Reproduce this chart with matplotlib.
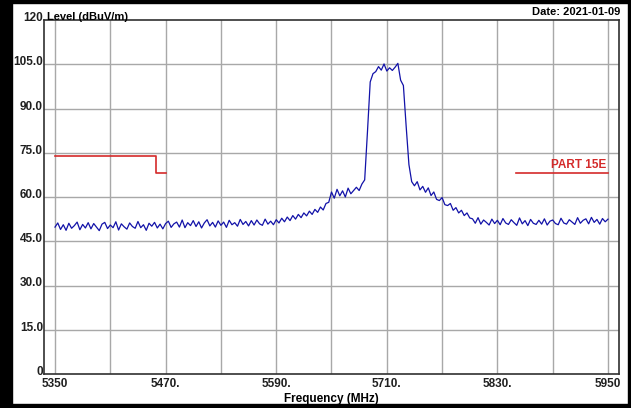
import numpy as np
import matplotlib
matplotlib.use("Agg")
from matplotlib import pyplot as plt
from matplotlib.patches import Rectangle
from matplotlib.transforms import ScaledTranslation

plt.rcParams['font.family'] = ['Liberation Sans', 'DejaVu Sans']

# sweep 5350..5950 MHz, 3 MHz step
freq = np.arange(5350, 5951, 3)

level = [
    # 5350 - 5470
    49.8, 51.2, 49.0, 50.6, 48.7, 51.1, 49.4, 50.3, 51.5, 48.9,
    50.7, 49.5, 51.3, 49.2, 51.0, 49.8, 48.6, 50.8, 51.4, 49.3,
    50.5, 49.6, 51.6, 48.8, 50.9, 49.9, 49.1, 51.2, 50.0, 49.4,
    51.7, 49.6, 50.6, 48.7, 51.1, 50.1, 51.4, 49.5, 50.8, 49.2, 51.0,
    # 5473 - 5590
    51.8, 49.7, 50.9, 51.5, 49.8, 52.2, 49.6, 51.3, 50.3, 52.0,
    50.0, 51.6, 49.5, 51.2, 52.3, 50.2, 51.4, 49.8, 51.9, 50.4,
    51.5, 49.7, 52.1, 50.6, 51.3, 50.1, 52.4, 50.7, 51.7, 50.2,
    52.0, 50.5, 52.2, 50.9, 50.4, 52.5, 50.8, 51.8, 50.6, 52.3,
    # 5593 - 5644
    51.2, 52.8, 51.6, 53.2, 52.0, 53.7, 52.5, 54.1, 53.0, 54.6,
    53.6, 55.2, 54.1, 55.8, 54.8, 56.6, 55.6, 57.8,
    # 5647 - 5683
    58.2, 61.7, 59.6, 62.6, 60.4, 62.1, 60.0, 63.0, 61.1, 62.2, 63.3, 62.2, 64.4,
    # 5686 - 5737 (carrier)
    65.8, 82.0, 99.0, 101.8, 102.5, 104.2, 103.0, 105.1, 102.7, 103.8,
    102.9, 104.0, 105.3, 99.6, 97.8, 84.0, 71.0, 65.2,
    # 5740 - 5800
    63.8, 65.2, 62.4, 63.6, 61.6, 63.1, 60.5, 61.7, 59.2, 58.8,
    59.8, 57.4, 57.1, 57.8, 55.5, 56.4, 54.6, 55.5, 53.7, 54.6, 52.9,
    # 5803 - 5950
    52.6, 51.1, 53.0, 50.8, 52.2, 51.4, 50.5, 52.5, 51.0, 52.1,
    50.6, 52.7, 51.2, 50.7, 52.3, 51.3, 50.4, 52.9, 50.9, 52.0,
    50.3, 52.4, 51.1, 50.7, 52.1, 50.8, 52.6, 50.5, 51.8, 52.2,
    51.0, 50.6, 52.8, 51.2, 50.8, 52.3, 51.5, 50.7, 53.0, 51.1,
    52.1, 52.6, 50.9, 53.1, 51.4, 52.4, 50.8, 52.7, 51.6, 52.5,
]

# limit lines
lim1_f = [5350, 5460, 5460, 5470]
lim1_l = [74.0, 74.0, 68.2, 68.2]
lim2_f = [5850, 5950]
lim2_l = [68.2, 68.2]

xticks = [5350, 5470, 5590, 5710, 5830, 5950]
xticklabels = ['5350', '5470.', '5590.', '5710.', '5830.', '5950']
xgrid = np.arange(5350, 5951, 60)
yticks = [0, 15, 30, 45, 60, 75, 90, 105, 120]
yticklabels = ['0', '15.0', '30.0', '45.0', '60.0', '75.0', '90.0', '105.0', '120']

fig = plt.figure(figsize=(6.31, 4.08), dpi=100)
ax = fig.add_axes([44/631, 1-374/408, 575/631, 354/408])

pad = 11 * 600 / 553
ax.set_xlim(5350 - pad, 5950 + pad)
ax.set_ylim(0, 120)

for g in xgrid:
    ax.axvline(g, color='#a8a8a8', lw=1.0, zorder=1)
for g in yticks[1:-1]:
    ax.axhline(g, color='#a8a8a8', lw=1.0, zorder=1)

ax.plot(freq, level, color='#1212a8', lw=0.9, zorder=3)
ax.plot(lim1_f, lim1_l, color='#d42a2a', lw=1.2, zorder=2)
ax.plot(lim2_f, lim2_l, color='#d42a2a', lw=1.2, zorder=2)
ax.text(5948, 70, 'PART 15E', color='#d42a2a', fontsize=8.5, fontweight='bold',
        ha='right', va='baseline')

ax.set_xticks(xticks)
ax.set_xticklabels(xticklabels, fontsize=8.5, fontweight='bold', color='#202020')
ax.set_yticks([])
ax.tick_params(length=0)
ax.tick_params(axis='x', pad=3)

# y labels sit on their grid line, right against the frame
ytrans = ax.get_yaxis_transform() + ScaledTranslation(-1/100, -1/100, fig.dpi_scale_trans)
for y, lab in zip(yticks, yticklabels):
    ax.text(0, y, lab, transform=ytrans, ha='right', va='baseline',
            fontsize=8.5, fontweight='bold', color='#202020', clip_on=False)

for s in ax.spines.values():
    s.set_color('#303030')
    s.set_linewidth(1.2)

ax.set_xlabel('Frequency (MHz)', fontsize=8.5, fontweight='bold', labelpad=2)
fig.text(47/631, 1-20/408, 'Level (dBuV/m)', fontsize=8, fontweight='bold', va='baseline')
fig.text(620/631, 1-15/408, 'Date: 2021-01-09', fontsize=8, fontweight='bold',
         ha='right', va='baseline')

# black frame of the screenshot
fig.patches.append(Rectangle((0, 0), 12/631, 1, transform=fig.transFigure, color='black'))
fig.patches.append(Rectangle((0, 0), 1, 4/408, transform=fig.transFigure, color='black'))
fig.patches.append(Rectangle((0, 1-3/408), 1, 3/408, transform=fig.transFigure, color='black'))
fig.patches.append(Rectangle((1-3/631, 0), 3/631, 1, transform=fig.transFigure, color='black'))

plt.savefig('out.png', dpi=100)
